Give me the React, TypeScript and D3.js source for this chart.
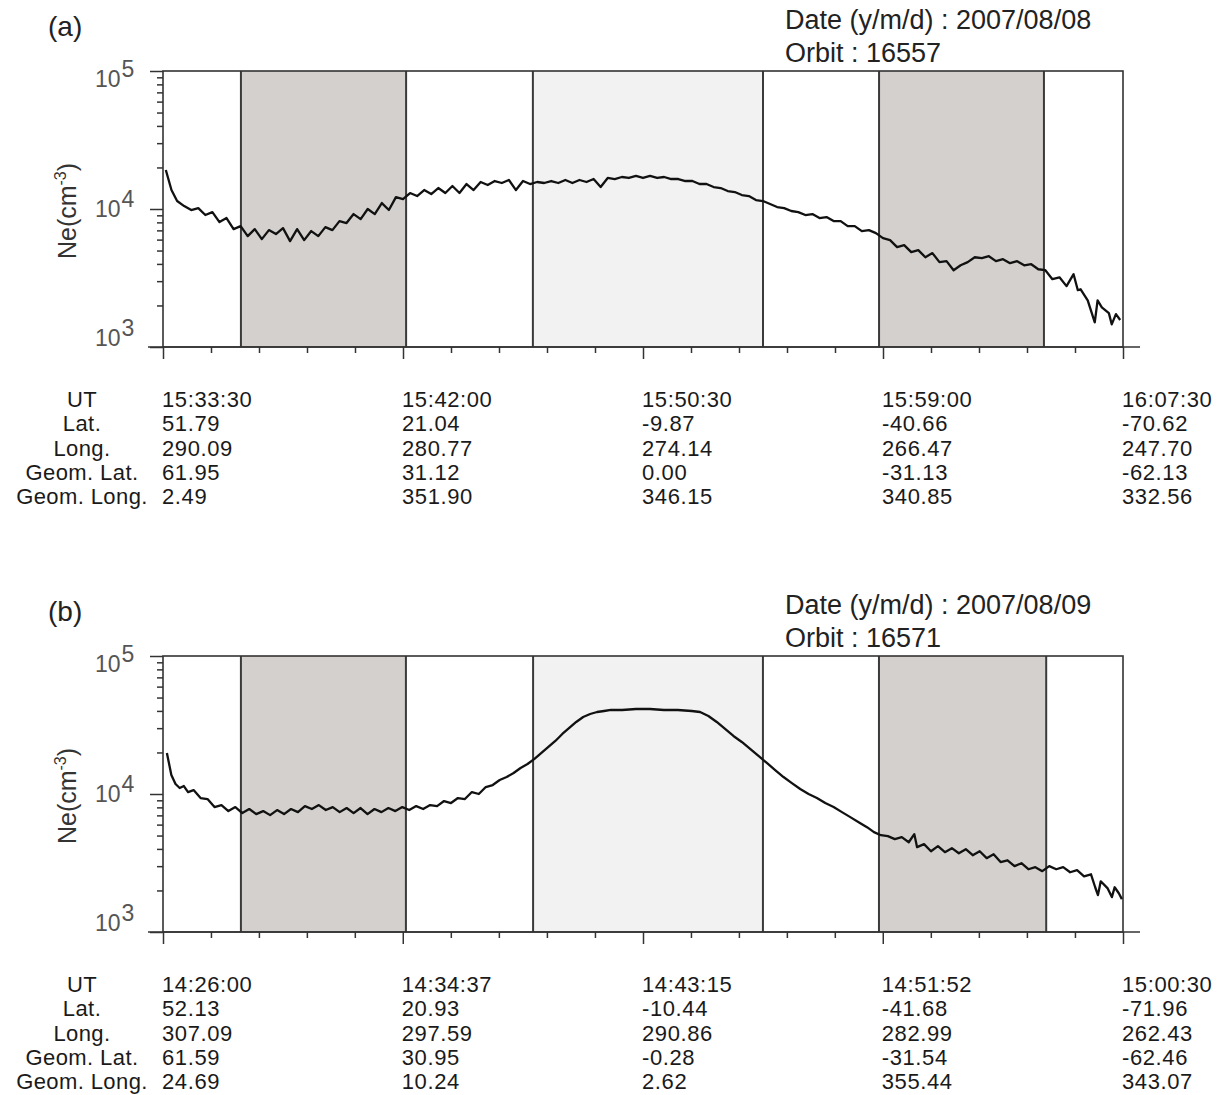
import React, { useRef, useEffect } from 'react'
import * as d3 from 'd3'

const ROW_LABELS = ['UT', 'Lat.', 'Long.', 'Geom. Lat.', 'Geom. Long.']

// ---- panel (a): 2007/08/08, orbit 16557
const utA = ['15:33:30', '15:42:00', '15:50:30', '15:59:00', '16:07:30']
const latA = ['51.79', '21.04', '-9.87', '-40.66', '-70.62']
const longA = ['290.09', '280.77', '274.14', '266.47', '247.70']
const geomLatA = ['61.95', '31.12', '0.00', '-31.13', '-62.13']
const geomLongA = ['2.49', '351.90', '346.15', '340.85', '332.56']
// shaded bands [start, end] in minutes after the first UT tick
const bandsA: [number, number, string][] = [[2.76, 8.61, 'dark'], [13.1, 21.25, 'light'], [25.36, 31.2, 'dark']]
// [minutes after 15:33:30, Ne in cm^-3]
const neA: [number, number][] = [
  [0.1, 19190], [0.3, 13720], [0.5, 11420], [0.75, 10500], [1.0, 9830], [1.25, 10150], [1.5, 9040], [1.75, 9500],
  [2.0, 8040], [2.25, 8600], [2.5, 7150], [2.75, 7520], [3.0, 6360], [3.25, 7150], [3.5, 6050], [3.75, 7030],
  [4.0, 6580], [4.25, 7270], [4.5, 5850], [4.75, 7150], [5.0, 5950], [5.25, 6920], [5.5, 6360], [5.75, 7390],
  [6.0, 7030], [6.25, 8170], [6.5, 7910], [6.75, 9190], [7.0, 8450], [7.25, 10000], [7.5, 9190], [7.75, 11040],
  [8.0, 9830], [8.25, 12200], [8.5, 11800], [8.75, 13050], [9.0, 12410], [9.25, 13720], [9.5, 12830], [9.75, 14190],
  [10.0, 13050], [10.25, 14670], [10.5, 13050], [10.75, 15170], [11.0, 13720], [11.25, 15690], [11.5, 14920], [11.75, 15950],
  [12.0, 15430], [12.25, 16220], [12.5, 13720], [12.75, 15950], [13.0, 15170], [13.25, 15690], [13.5, 15430], [13.75, 15950],
  [14.0, 15430], [14.25, 16220], [14.5, 15430], [14.75, 16220], [15.0, 15690], [15.25, 16490], [15.5, 14420], [15.75, 16780],
  [16.0, 16490], [16.25, 17060], [16.5, 16780], [16.75, 17350], [17.0, 16780], [17.25, 17350], [17.5, 16780], [17.75, 17060],
  [18.0, 16490], [18.25, 16490], [18.5, 15950], [18.75, 15950], [19.0, 15170], [19.25, 15170], [19.5, 14420], [19.75, 14190],
  [20.0, 13490], [20.25, 13270], [20.5, 12620], [20.75, 12410], [21.0, 11610], [21.25, 11420], [21.5, 10860], [21.75, 10330],
  [22.0, 10150], [22.25, 9670], [22.5, 9500], [22.75, 9040], [23.0, 9190], [23.25, 8600], [23.5, 8740], [23.75, 8170],
  [24.0, 8170], [24.25, 7520], [24.5, 7520], [24.75, 6920], [25.0, 7030], [25.25, 6690], [25.5, 6150], [25.75, 5950],
  [26.0, 5290], [26.25, 5470], [26.5, 4870], [26.75, 5030], [27.0, 4470], [27.25, 4790], [27.5, 4120], [27.75, 4190],
  [28.0, 3600], [28.25, 3910], [28.5, 4120], [28.75, 4470], [29.0, 4400], [29.25, 4550], [29.5, 4190], [29.75, 4330],
  [30.0, 4050], [30.25, 4190], [30.5, 3910], [30.75, 3980], [31.0, 3660], [31.25, 3600], [31.5, 3100], [31.75, 3200],
  [32.0, 2760], [32.25, 3370], [32.4, 2580], [32.5, 2620], [32.75, 2180], [33.0, 1510], [33.1, 2180], [33.25, 1940],
  [33.5, 1760], [33.6, 1460], [33.75, 1730], [33.9, 1570],
]

// ---- panel (b): 2007/08/09, orbit 16571
const utB = ['14:26:00', '14:34:37', '14:43:15', '14:51:52', '15:00:30']
const latB = ['52.13', '20.93', '-10.44', '-41.68', '-71.96']
const longB = ['307.09', '297.59', '290.86', '282.99', '262.43']
const geomLatB = ['61.59', '30.95', '-0.28', '-31.54', '-62.46']
const geomLongB = ['24.69', '10.24', '2.62', '355.44', '343.07']
const bandsB: [number, number, string][] = [[2.8, 8.73, 'dark'], [13.3, 21.56, 'light'], [25.73, 31.74, 'dark']]
// [minutes after 14:26:00, Ne in cm^-3]
const neB: [number, number][] = [
  [0.14, 19830], [0.3, 13720], [0.45, 11810], [0.6, 11050], [0.75, 11420], [0.9, 10330], [1.1, 10680], [1.35, 9350],
  [1.6, 9190], [1.85, 8040], [2.1, 8310], [2.35, 7520], [2.6, 8040], [2.85, 7270], [3.1, 7780], [3.35, 7150],
  [3.6, 7520], [3.85, 7030], [4.1, 7650], [4.35, 7150], [4.6, 7780], [4.85, 7390], [5.1, 8170], [5.35, 7780],
  [5.6, 8310], [5.85, 7650], [6.1, 8040], [6.35, 7390], [6.6, 7910], [6.85, 7270], [7.1, 7910], [7.35, 7150],
  [7.6, 7780], [7.85, 7390], [8.1, 7910], [8.35, 7520], [8.6, 8040], [8.85, 7650], [9.1, 8170], [9.35, 7780],
  [9.6, 8310], [9.85, 8170], [10.1, 8890], [10.35, 8600], [10.6, 9350], [10.85, 9190], [11.1, 10330], [11.35, 10000],
  [11.6, 11230], [11.85, 11610], [12.1, 12620], [12.35, 13270], [12.6, 14190], [12.85, 15430], [13.1, 16490], [13.35, 17950],
  [13.6, 19830], [13.85, 21910], [14.1, 24220], [14.35, 27220], [14.6, 30090], [14.85, 33250], [15.1, 36150], [15.35, 38000],
  [15.6, 39290], [15.85, 39950], [16.1, 40630], [16.5, 40630], [17.0, 41310], [17.5, 41310], [18.0, 40630], [18.5, 40630],
  [19.0, 39950], [19.3, 39290], [19.6, 36750], [19.9, 33250], [20.2, 29590], [20.5, 26330], [20.8, 23820], [21.1, 21190],
  [21.4, 18860], [21.7, 16780], [22.0, 14920], [22.3, 13270], [22.6, 12000], [22.9, 10860], [23.2, 10000], [23.5, 9350],
  [23.8, 8600], [24.1, 8040], [24.4, 7390], [24.7, 6800], [25.0, 6250], [25.3, 5750], [25.55, 5290], [25.8, 5030],
  [26.05, 4950], [26.3, 4710], [26.55, 4870], [26.8, 4470], [27.0, 5120], [27.1, 4120], [27.35, 4330], [27.6, 3850],
  [27.85, 4190], [28.1, 3790], [28.35, 4050], [28.6, 3720], [28.85, 3980], [29.1, 3600], [29.35, 3850], [29.6, 3430],
  [29.85, 3660], [30.1, 3210], [30.35, 3310], [30.6, 3000], [30.85, 3150], [31.1, 2850], [31.35, 2950], [31.6, 2760],
  [31.85, 3000], [32.1, 2850], [32.35, 2950], [32.6, 2710], [32.85, 2810], [33.1, 2530], [33.35, 2620], [33.5, 2110],
  [33.6, 1850], [33.7, 2330], [33.95, 2070], [34.1, 1790], [34.2, 2110], [34.35, 1910], [34.46, 1730],
]

const panels = [
  { tag: '(a)', date: '2007/08/08', orbit: '16557', ut: utA, rows: [utA, latA, longA, geomLatA, geomLongA], bands: bandsA, ne: neA },
  { tag: '(b)', date: '2007/08/09', orbit: '16571', ut: utB, rows: [utB, latB, longB, geomLatB, geomLongB], bands: bandsB, ne: neB },
]

const FONT = "'Liberation Sans', Arial, sans-serif"
const toMin = (s: string) => {
  const [h, m, sec] = s.split(':').map(Number)
  return h * 60 + m + sec / 60
}

function drawPanel(svg: any, p: any, top: number) {
  const left = 163, right = 1123
  const bottom = top + 276
  const t0 = toMin(p.ut[0])
  const majors = p.ut.map((u: string) => toMin(u) - t0)
  const x = d3.scaleLinear().domain([0, majors[majors.length - 1]]).range([left, right])
  const y = d3.scaleLog().domain([1e3, 1e5]).range([bottom, top])
  const g = svg.append('g')

  // latitude bands
  p.bands.forEach(([a, b, kind]: [number, number, string]) => {
    g.append('rect')
      .attr('x', x(a)).attr('y', top)
      .attr('width', x(b) - x(a)).attr('height', bottom - top)
      .attr('fill', kind === 'dark' ? '#d4d0cd' : '#f2f2f2')
    ;[a, b].forEach(v => {
      g.append('line')
        .attr('x1', x(v)).attr('x2', x(v)).attr('y1', top).attr('y2', bottom)
        .attr('stroke', '#3a3a3a').attr('stroke-width', 2)
    })
  })

  // frame
  g.append('rect')
    .attr('x', left).attr('y', top).attr('width', right - left).attr('height', bottom - top)
    .attr('fill', 'none').attr('stroke', '#333').attr('stroke-width', 1.6)
  g.append('line')
    .attr('x1', 148).attr('x2', 1140).attr('y1', bottom).attr('y2', bottom)
    .attr('stroke', '#333').attr('stroke-width', 1.6)

  // x ticks
  const minor: number[] = []
  for (let i = 0; i < majors.length - 1; i++) {
    for (let k = 1; k < 5; k++) minor.push(majors[i] + (majors[i + 1] - majors[i]) * k / 5)
  }
  g.append('g').attr('transform', `translate(0,${bottom})`).attr('color', '#333')
    .call(d3.axisBottom(x).tickValues(minor).tickSize(6).tickFormat(() => ''))
    .call((s: any) => s.select('.domain').remove())
  g.append('g').attr('transform', `translate(0,${bottom})`).attr('color', '#333')
    .call(d3.axisBottom(x).tickValues(majors).tickSize(12).tickFormat(() => ''))
    .call((s: any) => s.select('.domain').remove())

  // y ticks (log)
  const yMinor: number[] = []
  ;[1e3, 1e4].forEach(d => { for (let k = 2; k < 10; k++) yMinor.push(d * k) })
  g.append('g').attr('transform', `translate(${left},0)`).attr('color', '#333')
    .call(d3.axisLeft(y).tickValues(yMinor).tickSize(6).tickFormat(() => ''))
    .call((s: any) => s.select('.domain').remove())
  g.append('g').attr('transform', `translate(${left},0)`).attr('color', '#333')
    .call(d3.axisLeft(y).tickValues([1e3, 1e4, 1e5]).tickSize(13).tickFormat(() => ''))
    .call((s: any) => s.select('.domain').remove())
  g.selectAll('.tick line').attr('stroke-width', 1.5)

  const labelShift: Record<number, number> = { 3: -1, 4: 8, 5: 16 }
  ;[3, 4, 5].forEach(e => {
    const t = g.append('text')
      .attr('x', 95).attr('y', y(Math.pow(10, e)) + labelShift[e])
      .attr('font-family', FONT).attr('font-size', 23).attr('fill', '#555')
    t.append('tspan').text('10')
    t.append('tspan').attr('dx', 1).attr('dy', -10).attr('font-size', 23).text(String(e))
  })

  // axis title
  const yt = g.append('text')
    .attr('transform', `translate(76,${top + 140}) rotate(-90)`)
    .attr('text-anchor', 'middle')
    .attr('font-family', FONT).attr('font-size', 25).attr('fill', '#333')
  yt.append('tspan').text('Ne(cm')
  yt.append('tspan').attr('dy', -10).attr('font-size', 16).text('-3')
  yt.append('tspan').attr('dy', 10).text(')')

  // data
  const line = d3.line<[number, number]>().x(d => x(d[0])).y(d => y(d[1]))
  g.append('path')
    .datum(p.ne)
    .attr('d', line)
    .attr('fill', 'none').attr('stroke', '#111').attr('stroke-width', 2.3)
    .attr('stroke-linejoin', 'round')

  // panel tag and header
  g.append('text').attr('x', 48).attr('y', top - 35)
    .attr('font-family', FONT).attr('font-size', 28).attr('fill', '#222').text(p.tag)
  g.append('text').attr('x', 785).attr('y', top - 42)
    .attr('font-family', FONT).attr('font-size', 27).attr('fill', '#222')
    .text(`Date (y/m/d) : ${p.date}`)
  g.append('text').attr('x', 785).attr('y', top - 9)
    .attr('font-family', FONT).attr('font-size', 27).attr('fill', '#222')
    .text(`Orbit : ${p.orbit}`)

  // ephemeris table
  ROW_LABELS.forEach((lab, r) => {
    const by = top + 336 + r * 24.3
    g.append('text').attr('x', 82).attr('y', by).attr('text-anchor', 'middle')
      .attr('font-family', FONT).attr('font-size', 22).attr('letter-spacing', 0.4)
      .attr('fill', '#1a1a1a').text(lab)
    p.rows[r].forEach((v: string, i: number) => {
      g.append('text').attr('x', x(majors[i]) - 1).attr('y', by)
        .attr('font-family', FONT).attr('font-size', 22).attr('letter-spacing', 0.6)
        .attr('fill', '#1a1a1a').text(v)
    })
  })
}

const App = () => {
  const chartRef = useRef<SVGSVGElement>(null)

  useEffect(() => {
    const svg = d3.select(chartRef.current)
    svg.selectAll('*').remove()
    svg.append('rect').attr('width', 1228).attr('height', 1095).attr('fill', '#fff')
    panels.forEach((p, i) => drawPanel(svg, p, 71 + i * 585))
  }, [])

  return (
    <svg
      ref={chartRef}
      width={1228}
      height={1095}
      style={{ position: 'absolute', left: 0, top: 0, display: 'block' }}
    />
  )
}

export default App
